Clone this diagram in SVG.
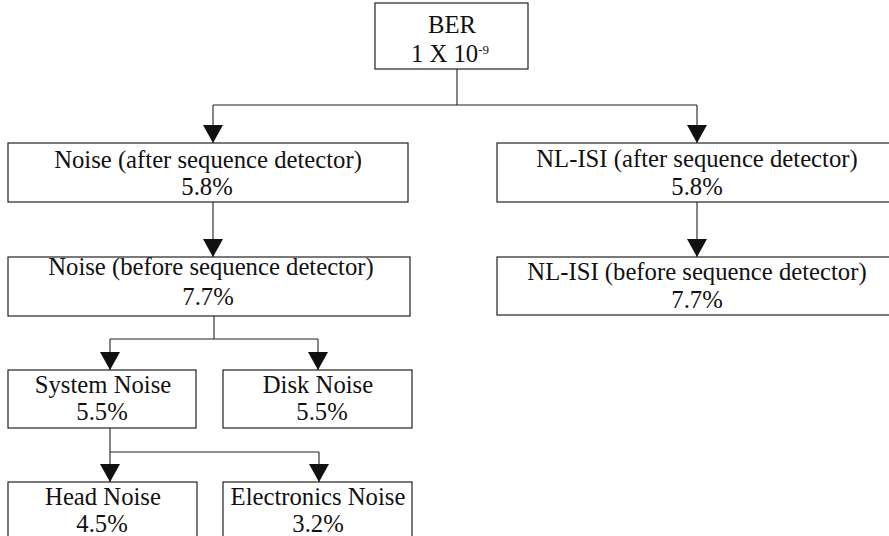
<svg xmlns="http://www.w3.org/2000/svg" width="889" height="536" viewBox="0 0 889 536">
<style>
.box{fill:#fff;stroke:#222;stroke-width:1.2}
.t{font-family:'Liberation Serif',Tinos,'DejaVu Serif',serif;font-size:24.7px;fill:#111;text-anchor:middle}
.c{fill:none;stroke:#222;stroke-width:1.1}
</style>
<defs>
<marker id="ah" viewBox="0 0 18 20" refX="18" refY="10" markerWidth="18" markerHeight="20" markerUnits="userSpaceOnUse" orient="auto">
<path d="M0,0 L18,10 L0,20 Z" fill="#111"/>
</marker>
</defs>
<rect width="889" height="536" fill="#fff"/>
<g id="connectors">
<path class="c" d="M457,69 V105 M213,105 H697"/>
<path class="c" d="M213,105 V143" marker-end="url(#ah)"/>
<path class="c" d="M697,105 V143" marker-end="url(#ah)"/>
<path class="c" d="M213,202 V257" marker-end="url(#ah)"/>
<path class="c" d="M697,202 V257" marker-end="url(#ah)"/>
<path class="c" d="M214,316 V339 M110,339 H318"/>
<path class="c" d="M110,339 V370" marker-end="url(#ah)"/>
<path class="c" d="M318,339 V370" marker-end="url(#ah)"/>
<path class="c" d="M110,428 V452 H319"/>
<path class="c" d="M110,452 V482" marker-end="url(#ah)"/>
<path class="c" d="M319,452 V482" marker-end="url(#ah)"/>
</g>
<g id="ber">
<rect class="box" x="375" y="3" width="153" height="66"/>
<text class="t" x="452" y="33" font-family="Liberation Serif, serif">BER</text>
<text class="t" x="450" y="62" font-family="Liberation Serif, serif">1 X 10<tspan font-size="13" dy="-8">-9</tspan></text>
</g>
<g id="noise-after">
<rect class="box" x="8" y="143" width="400" height="59"/>
<text class="t" x="208" y="168" font-family="Liberation Serif, serif">Noise (after sequence detector)</text>
<text class="t" x="207" y="195" font-family="Liberation Serif, serif">5.8%</text>
</g>
<g id="nlisi-after">
<rect class="box" x="497" y="143" width="400" height="59"/>
<text class="t" x="697" y="167" font-family="Liberation Serif, serif">NL-ISI (after sequence detector)</text>
<text class="t" x="697" y="195" font-family="Liberation Serif, serif">5.8%</text>
</g>
<g id="noise-before">
<rect class="box" x="8" y="257" width="402" height="59"/>
<text class="t" x="211" y="275" font-family="Liberation Serif, serif">Noise (before sequence detector)</text>
<text class="t" x="208" y="305" font-family="Liberation Serif, serif">7.7%</text>
</g>
<g id="nlisi-before">
<rect class="box" x="497" y="257" width="400" height="58"/>
<text class="t" x="697" y="280" font-family="Liberation Serif, serif">NL-ISI (before sequence detector)</text>
<text class="t" x="697" y="308" font-family="Liberation Serif, serif">7.7%</text>
</g>
<g id="system-noise">
<rect class="box" x="8" y="370" width="188" height="58"/>
<text class="t" x="103" y="393" font-family="Liberation Serif, serif">System Noise</text>
<text class="t" x="102" y="420" font-family="Liberation Serif, serif">5.5%</text>
</g>
<g id="disk-noise">
<rect class="box" x="223" y="370" width="189" height="58"/>
<text class="t" x="318" y="393" font-family="Liberation Serif, serif">Disk Noise</text>
<text class="t" x="322" y="420" font-family="Liberation Serif, serif">5.5%</text>
</g>
<g id="head-noise">
<rect class="box" x="8" y="482" width="189" height="70"/>
<text class="t" x="103" y="505" font-family="Liberation Serif, serif">Head Noise</text>
<text class="t" x="102" y="532" font-family="Liberation Serif, serif">4.5%</text>
</g>
<g id="electronics-noise">
<rect class="box" x="223" y="482" width="189" height="70"/>
<text class="t" x="318" y="505" font-family="Liberation Serif, serif">Electronics Noise</text>
<text class="t" x="318" y="532" font-family="Liberation Serif, serif">3.2%</text>
</g>
</svg>
